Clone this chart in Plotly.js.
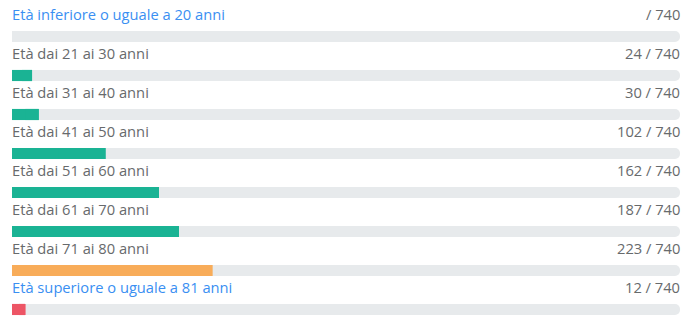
<!DOCTYPE html>
<html>
<head>
<meta charset="utf-8">
<script src="https://cdn.plot.ly/plotly-3.0.1.min.js"></script>
<style>html,body{margin:0;padding:0;background:#fff;}#chart{width:681px;height:319px;}</style>
</head>
<body>
<div id="chart"></div>
<script>
const categories = [
  "Età inferiore o uguale a 20 anni",
  "Età dai 21 ai 30 anni",
  "Età dai 31 ai 40 anni",
  "Età dai 41 ai 50 anni",
  "Età dai 51 ai 60 anni",
  "Età dai 61 ai 70 anni",
  "Età dai 71 ai 80 anni",
  "Età superiore o uguale a 81 anni"
];
const values = [null, 24, 30, 102, 162, 187, 223, 12];
const total = 740;
const barColors = ["#1ab394", "#1ab394", "#1ab394", "#1ab394", "#1ab394", "#1ab394", "#f8ac59", "#ed5565"];
const labelColors = ["#3a8ff2", "#676a6c", "#676a6c", "#676a6c", "#676a6c", "#676a6c", "#676a6c", "#3a8ff2"];

const idx = categories.map((c, i) => i);
// progress bars show the rounded percentage of the total
const pct = values.map(v => v == null ? 0 : Math.round(v / total * 100));
const BW = 0.285;

const traces = [
  { type: 'bar', orientation: 'h', y: idx, x: idx.map(() => 100), width: BW,
    marker: { color: '#e7eaec', cornerradius: 5 }, hoverinfo: 'skip' },
  { type: 'bar', orientation: 'h', y: idx, x: pct, width: BW,
    marker: { color: barColors, cornerradius: 5 }, hoverinfo: 'skip' },
  { type: 'bar', orientation: 'h', y: idx, x: pct.map(v => v / 2), base: pct.map(v => v / 2), width: BW,
    marker: { color: barColors, cornerradius: 0 }, hoverinfo: 'skip' }
];

const annotations = [];
categories.forEach((c, i) => {
  annotations.push({ xref: 'x', yref: 'y', x: 0, y: i - 0.585, text: c, showarrow: false, xshift: -2,
    xanchor: 'left', yanchor: 'middle', font: { family: 'Open Sans', size: 14.7, color: labelColors[i] } });
  annotations.push({ xref: 'x', yref: 'y', x: 100, y: i - 0.585, xshift: 2,
    text: (values[i] == null ? '' : values[i] + ' ') + '/ ' + total, showarrow: false,
    xanchor: 'right', yanchor: 'middle', font: { family: 'Open Sans', size: 14.7, color: '#676a6c' } });
});

const layout = {
  width: 681, height: 319,
  margin: { l: 12, r: 1, t: 0, b: 0, pad: 0 },
  paper_bgcolor: '#fff', plot_bgcolor: '#fff',
  barmode: 'overlay', showlegend: false,
  xaxis: { range: [0, 100], visible: false, fixedrange: true },
  yaxis: { range: [7.244, -0.936], visible: false, fixedrange: true },
  annotations: annotations,
  font: { family: 'Open Sans' }
};

Plotly.newPlot('chart', traces, layout, { displayModeBar: false, staticPlot: true });
</script>
</body>
</html>
